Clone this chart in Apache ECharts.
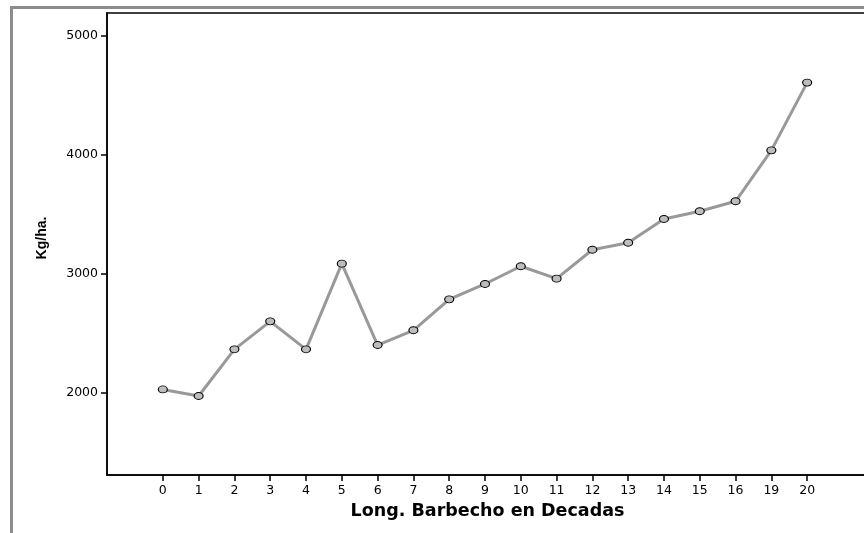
<!DOCTYPE html>
<html>
<head>
<meta charset="utf-8">
<script src="https://cdn.jsdelivr.net/npm/echarts@6/dist/echarts.min.js"></script>
<style>
  html, body { margin: 0; padding: 0; background: #fff; }
  #chart { width: 864px; height: 533px; }
</style>
</head>
<body>
<div id="chart"></div>
<script>
// decades of fallow (category labels, evenly spaced)
const categories = ['0', '1', '2', '3', '4', '5', '6', '7', '8', '9', '10',
  '11', '12', '13', '14', '15', '16', '19', '20']
// mean yield, kg/ha
const yieldValues = [2030, 1975, 2367, 2602, 2367, 3087, 2403, 2527, 2787, 2916,
  3065, 2961, 3204, 3263, 3462, 3527, 3611, 4039, 4608]
const yTicks = [2000, 3000, 4000, 5000]

const catIdx = categories.map((c, i) => i)

const chart = echarts.init(document.getElementById('chart'))

const tickFont = { fontFamily: 'DejaVu Sans', fontSize: 12.5, color: '#000' }

const option = {
  backgroundColor: '#fff',
  animation: false,
  grid: {
    left: 107, top: 13, right: -4, bottom: 58,
    outerBoundsMode: 'none',
    show: true, borderColor: '#000', borderWidth: 1.5
  },
  graphic: [{
    type: 'rect',
    left: 9, top: 5,
    shape: { width: 900, height: 600 },
    style: { fill: 'none', stroke: '#8c8c8c', lineWidth: 3 },
    silent: true
  }],
  xAxis: {
    type: 'value',
    min: -1.56,
    max: 19.7,
    name: 'Long. Barbecho en Decadas',
    nameLocation: 'middle',
    nameGap: 27,
    nameTextStyle: { fontFamily: 'DejaVu Sans', fontSize: 17.5, fontWeight: 'bold', color: '#000' },
    axisLine: { show: true, onZero: false, lineStyle: { color: '#000', width: 1.5 } },
    axisTick: { show: true, length: 6, customValues: catIdx, lineStyle: { color: '#000', width: 1.5 } },
    axisLabel: {
      ...tickFont, margin: 9,
      customValues: catIdx,
      formatter: v => categories[Math.round(v)]
    },
    splitLine: { show: false }
  },
  yAxis: {
    type: 'value',
    min: 1311,
    max: 5193,
    name: 'Kg/ha.',
    nameLocation: 'middle',
    nameGap: 58,
    nameTextStyle: {
      fontFamily: 'Liberation Sans, Arial, sans-serif', fontSize: 14, fontWeight: 'bold', color: '#000',
      padding: [0, 0, 0, 12]
    },
    axisLine: { show: true, onZero: false, lineStyle: { color: '#000', width: 1.5 } },
    axisTick: { show: true, length: 6, customValues: yTicks, lineStyle: { color: '#000', width: 1.5 } },
    axisLabel: { ...tickFont, margin: 9, customValues: yTicks, formatter: v => String(v) },
    splitLine: { show: false }
  },
  series: [{
    type: 'line',
    data: catIdx.map(i => [i, yieldValues[i]]),
    lineStyle: { color: '#999', width: 3 },
    symbol: 'circle',
    symbolSize: [9, 7],
    itemStyle: { color: '#bdbdbd', borderColor: '#000', borderWidth: 1 },
    z: 3
  }]
}

chart.setOption(option)
</script>
</body>
</html>
